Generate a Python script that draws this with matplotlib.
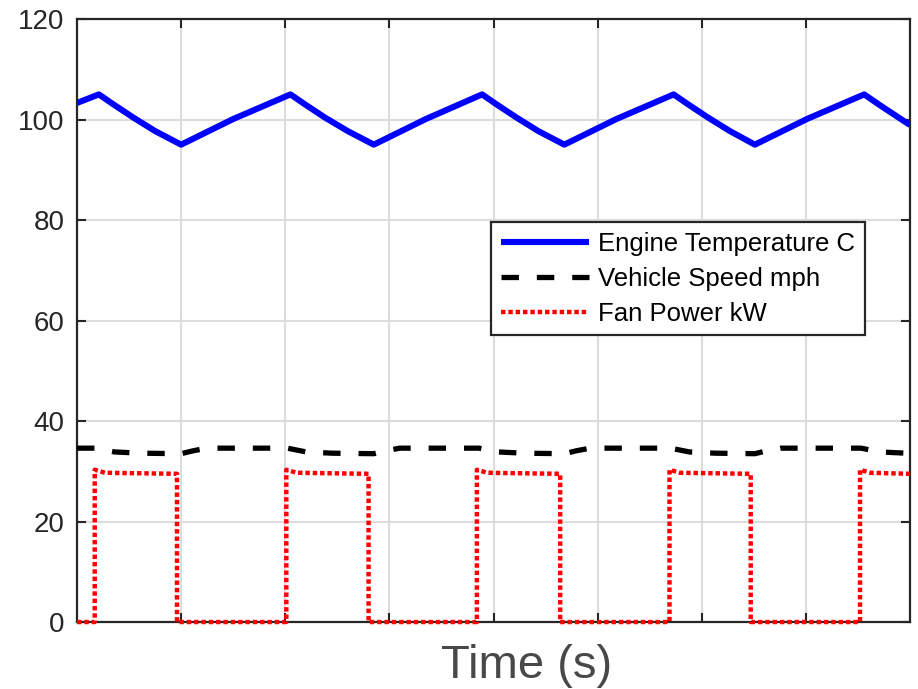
import matplotlib
matplotlib.use("Agg")
import matplotlib.pyplot as plt

plt.rcParams['font.family'] = ['Liberation Sans', 'DejaVu Sans']

# ---- data (x in plot time units) ----
temp_t = [0.00, 0.21, 0.35, 0.54, 0.75, 1.00, 1.50,
          2.05, 2.19, 2.38, 2.60, 2.85, 3.35,
          3.89, 4.03, 4.22, 4.43, 4.68, 5.18,
          5.73, 5.87, 6.06, 6.27, 6.51, 7.01,
          7.56, 7.70, 7.89, 8.00]
temp_v = [103.3, 105.0, 103.0, 100.4, 97.7, 95.0, 100.1,
          105.0, 103.0, 100.4, 97.7, 95.0, 100.1,
          105.0, 103.0, 100.4, 97.7, 95.0, 100.1,
          105.0, 103.0, 100.4, 97.7, 95.0, 100.1,
          105.0, 103.0, 100.4, 98.9]

speed_t = [0.00, 0.18, 0.36, 0.61, 1.00, 1.12, 1.25,
           2.02, 2.20, 2.45, 2.85, 2.97, 3.10,
           3.86, 4.04, 4.29, 4.68, 4.80, 4.93,
           5.70, 5.88, 6.13, 6.51, 6.63, 6.76,
           7.53, 7.71, 7.96, 8.00]
speed_v = [34.6, 34.6, 33.85, 33.6, 33.5, 34.1, 34.6,
           34.6, 33.85, 33.6, 33.5, 34.1, 34.6,
           34.6, 33.85, 33.6, 33.5, 34.1, 34.6,
           34.6, 33.85, 33.6, 33.5, 34.1, 34.6,
           34.6, 33.85, 33.6, 33.6]

fan_t = [0.00, 0.17, 0.17, 0.27, 0.96, 0.96,
         2.01, 2.01, 2.11, 2.80, 2.80,
         3.84, 3.84, 3.94, 4.64, 4.64,
         5.69, 5.69, 5.79, 6.47, 6.47,
         7.52, 7.52, 7.62, 8.00]
fan_v = [0, 0, 30.3, 29.7, 29.5, 0,
         0, 30.3, 29.7, 29.5, 0,
         0, 30.3, 29.7, 29.5, 0,
         0, 30.3, 29.7, 29.5, 0,
         0, 30.3, 29.7, 29.5]

labels = ['Engine Temperature C', 'Vehicle Speed mph', 'Fan Power kW']
y_ticks = [0, 20, 40, 60, 80, 100, 120]
x_ticks = [1, 2, 3, 4, 5, 6, 7]

# ---- figure ----
fig = plt.figure(figsize=(9.18, 6.89), dpi=100)
ax = fig.add_axes([0.0839, 0.0972, 0.9074, 0.8752])

dark = '#262626'
ax.plot(temp_t, temp_v, color='#0000ff', lw=4.4, solid_joinstyle='round',
        solid_capstyle='butt', label=labels[0], zorder=3)
ax.plot(speed_t, speed_v, color='black', lw=3.8, linestyle=(0, (3.3, 3.4)),
        label=labels[1], zorder=3)
ax.plot(fan_t, fan_v, color='#ff0000', lw=3.2, linestyle=(0, (1, 0.65)),
        label=labels[2], zorder=3, clip_on=False)

ax.set_xlim(0, 8)
ax.set_ylim(0, 120)
ax.set_yticks(y_ticks)
ax.set_xticks(x_ticks)
ax.set_xticklabels([])
ax.tick_params(axis='both', direction='in', length=6.5, width=1.5,
               colors=dark, labelsize=20, top=True, right=True, pad=9)
for s in ax.spines.values():
    s.set_linewidth(1.6)
    s.set_color(dark)
ax.grid(True, color='#dcdcdc', lw=1.5)
ax.set_axisbelow(True)

ax.set_xlabel('Time (s)', fontsize=34, color='#484848')
ax.xaxis.set_label_coords(0.540, -0.036)

leg = ax.legend(loc='upper right', bbox_to_anchor=(0.946, 0.663),
                borderaxespad=0, fontsize=18.5, handlelength=3.45,
                handletextpad=0.35, labelspacing=0.42, borderpad=0.38,
                fancybox=False, framealpha=1, edgecolor=dark)
leg.get_frame().set_linewidth(1.6)

fig.savefig('out.png', dpi=100)
